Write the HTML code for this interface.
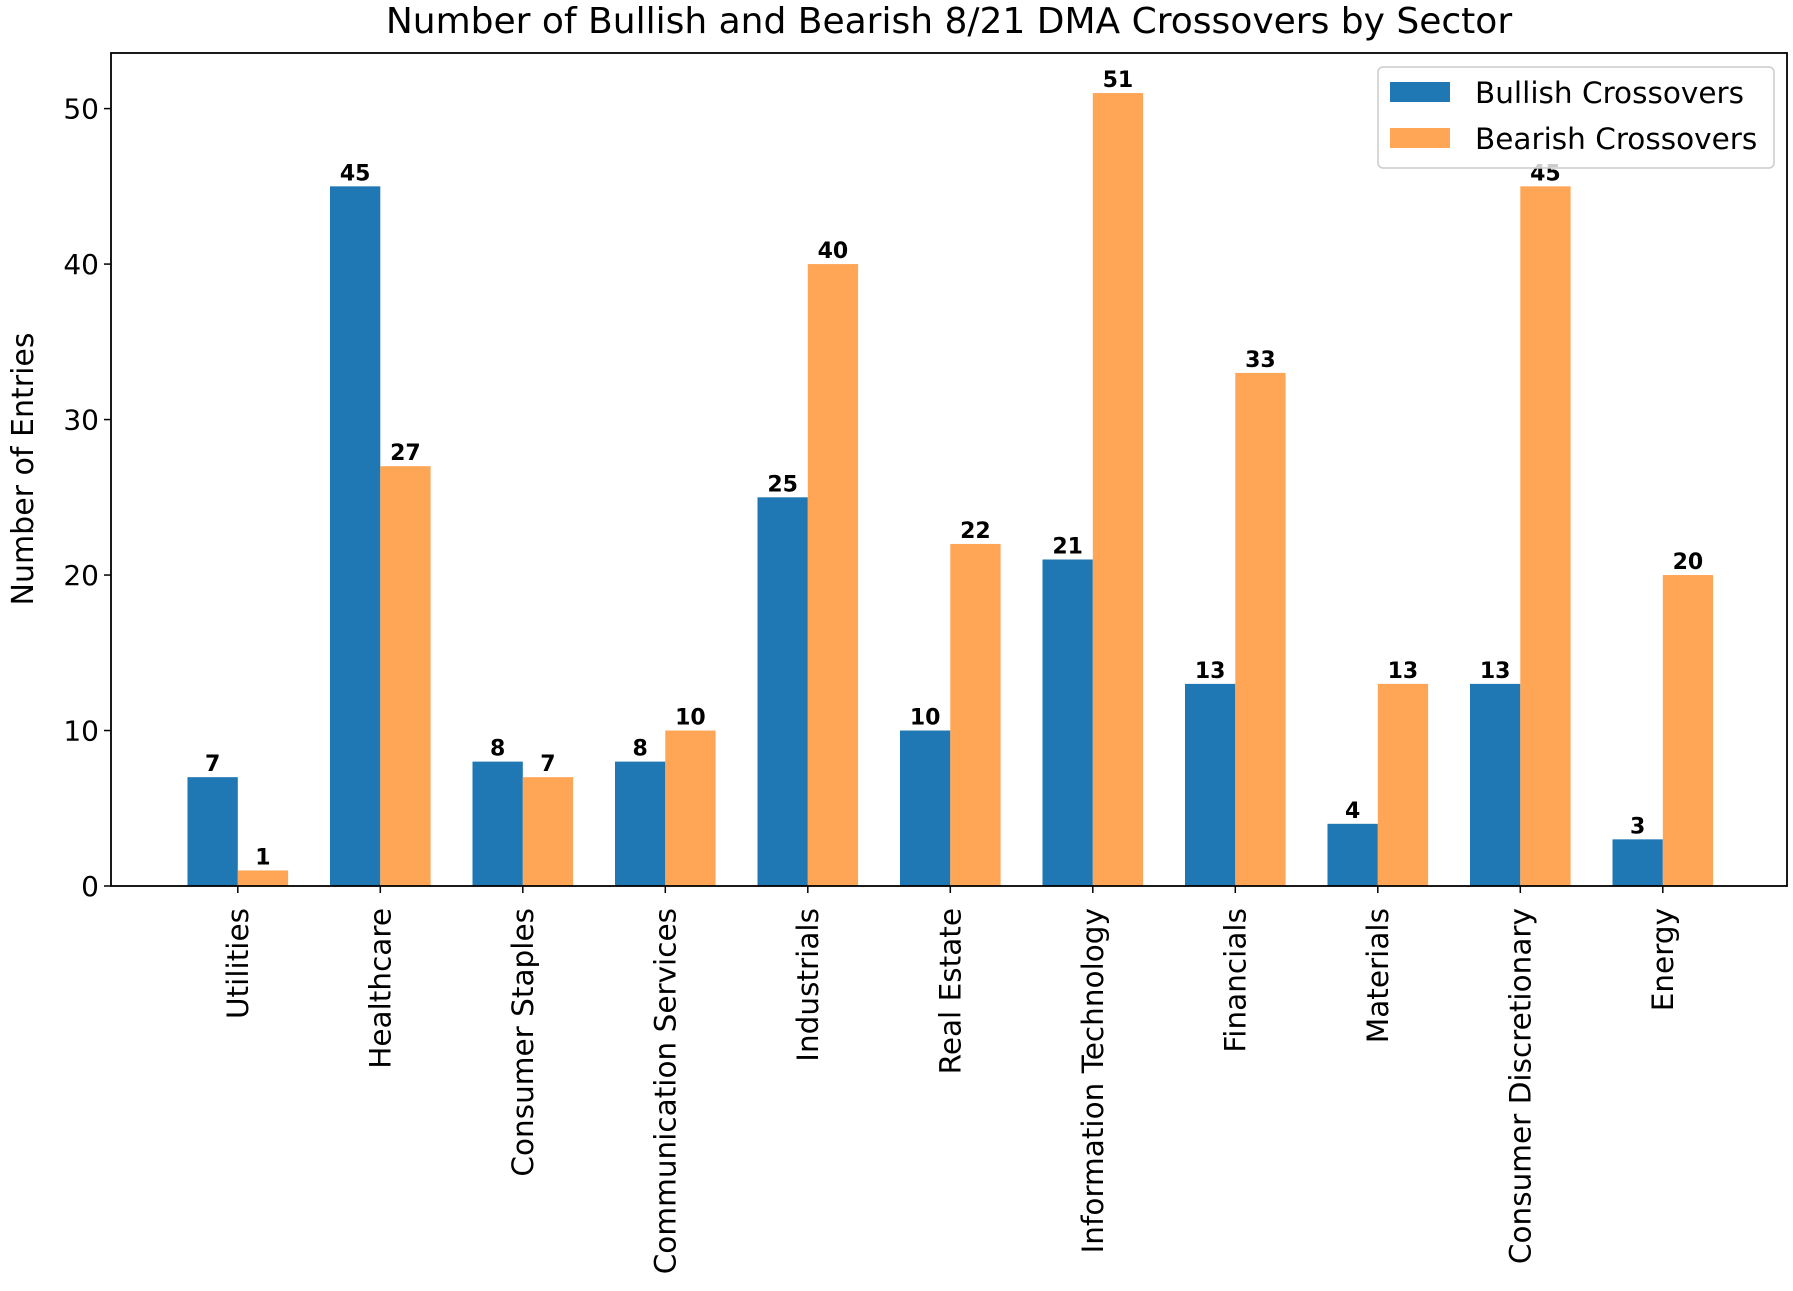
<!DOCTYPE html>
<html><head><meta charset="utf-8"><style>
body{margin:0;background:#fff}
svg text{font-family:"DejaVu Sans","Liberation Sans",sans-serif}
</style></head><body>
<svg id="chart" width="1793" height="1286" viewBox="0 0 1793 1286" xmlns="http://www.w3.org/2000/svg">
<rect width="1793" height="1286" fill="#fff"/>
<text x="949" y="33" font-size="36" text-anchor="middle">Number of Bullish and Bearish 8/21 DMA Crossovers by Sector</text>
<g id="bars"></g>
<g id="axes"></g>
<text transform="translate(33,469) rotate(-90)" font-size="30" text-anchor="middle">Number of Entries</text>
<g>
<rect x="1378" y="67" width="396" height="101" rx="5" fill="#fff" fill-opacity="0.8" stroke="#ccc" stroke-width="1.5"/>
<rect x="1390" y="82" width="60" height="20" fill="#1f77b4"/>
<text x="1475" y="103" font-size="29.5">Bullish Crossovers</text>
<rect x="1390" y="128" width="60" height="20" fill="#ffa556"/>
<text x="1475" y="149" font-size="29.5">Bearish Crossovers</text>
</g>
</svg>
<script>
const categories=["Utilities","Healthcare","Consumer Staples","Communication Services","Industrials","Real Estate","Information Technology","Financials","Materials","Consumer Discretionary","Energy"];
const bullish=[7,45,8,8,25,10,21,13,4,13,3];
const bearish=[1,27,7,10,40,22,51,33,13,45,20];
const yTicks=[0,10,20,30,40,50];
const NS="http://www.w3.org/2000/svg";
const L=111,R=1787,T=53,B=886;
const y=v=>B-(B-108.6)*v/50;
const xc=i=>237.8+i*142.5;
const bw=50.3;
const bars=document.getElementById('bars'),axes=document.getElementById('axes');
function mk(tag,a,p){const e=document.createElementNS(NS,tag);for(const k in a)e.setAttribute(k,a[k]);p.appendChild(e);return e;}
categories.forEach((c,i)=>{
 [[bullish,'#1f77b4',-1,'bullish'],[bearish,'#ffa556',0,'bearish']].forEach(([arr,col,off,nm])=>{
  const x0=xc(i)+off*bw,v=arr[i];
  const r=mk('rect',{x:x0,y:y(v),width:bw,height:B-y(v),fill:col},bars);
  
  
  const t=mk('text',{x:x0+bw/2,y:y(v)-6,'font-size':22,'font-weight':'bold','text-anchor':'middle'},bars);
  t.textContent=v;
  
  
 });
 mk('line',{x1:xc(i),x2:xc(i),y1:B,y2:B+7,stroke:'#000','stroke-width':1.5},axes);
 const tl=mk('text',{transform:`translate(${xc(i)+10},${B+22}) rotate(-90)`,'font-size':29.5,'text-anchor':'end'},axes);
 tl.textContent=c;
 
 
});
yTicks.forEach(v=>{
 mk('line',{x1:L-7,x2:L,y1:y(v),y2:y(v),stroke:'#000','stroke-width':1.5},axes);
 const t=mk('text',{x:L-12,y:y(v)+10,'font-size':28,'text-anchor':'end'},axes);
 t.textContent=v;
 
 
});
const f=mk('rect',{x:L,y:T,width:R-L,height:B-T,fill:'none',stroke:'#000','stroke-width':1.8},axes);


</script>
</body></html>
